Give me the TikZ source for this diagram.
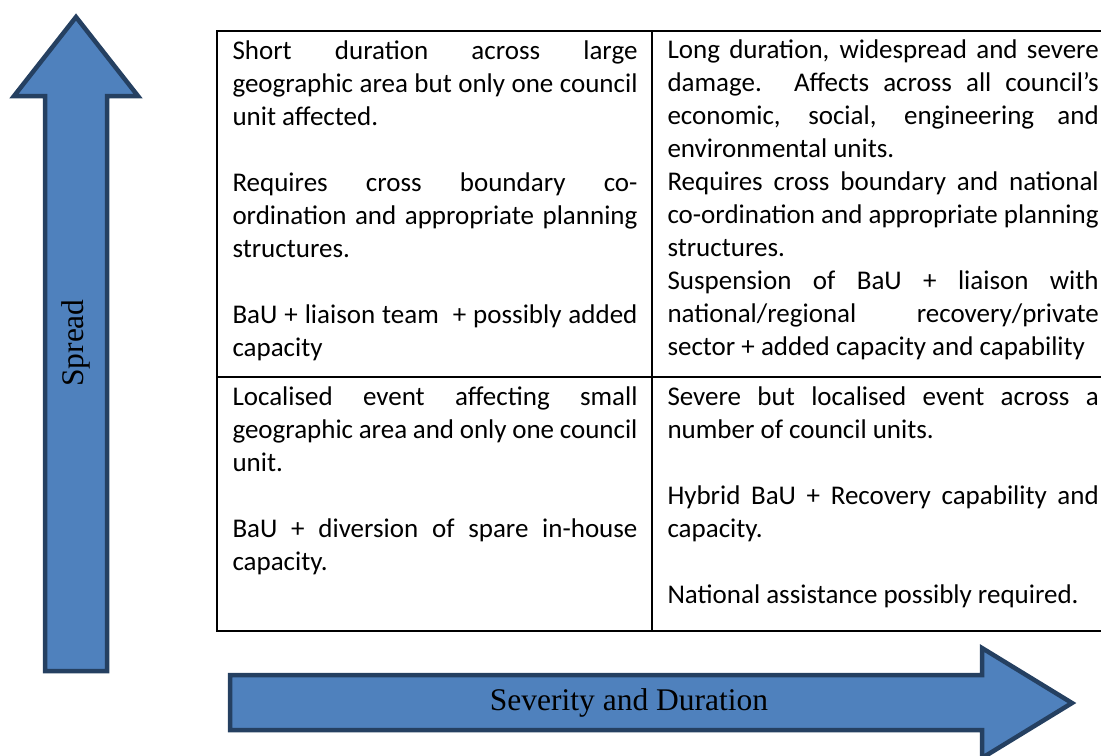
\documentclass[tikz,border=0pt]{standalone}
\usepackage{fontspec}
\setmainfont{Carlito}
\newfontfamily\tnr{Liberation Serif}
\definecolor{arrowfill}{RGB}{79,129,189}
\definecolor{arrowline}{RGB}{37,64,97}
\newcommand\natsp{\spaceskip=0pt\relax\xspaceskip=0pt\relax}
\newcommand\jla[1]{\makebox[162pt][s]{\natsp #1}\\}
\newcommand\jlb[1]{\makebox[172.5pt][s]{\natsp #1}\\}
\newcommand\pl[1]{\mbox{\natsp #1}\\}
\newcommand\cellfont{\fontsize{10.8pt}{13.2pt}\selectfont}
\tikzset{
  cellA/.style={anchor=base west, inner sep=0pt, text width=162pt, font=\cellfont},
  cellB/.style={anchor=base west, inner sep=0pt, text width=172.5pt, font=\cellfont},
  bigarrow/.style={fill=arrowfill, draw=arrowline, line width=1.8pt, line join=miter},
  grid/.style={draw=black, line width=1.1pt},
  axislabel/.style={inner sep=0pt, font=\tnr\fontsize{12.6pt}{14pt}\selectfont}
}
\begin{document}
\begin{tikzpicture}[x=0.4pt,y=-0.4pt]
\path[use as bounding box, clip] (0,0) rectangle (1101,755);
% table
\draw[grid] (217,31) rectangle (1110,631);
\draw[grid] (652,31) -- (652,631);
\draw[grid] (217,377) -- (1110,377);
% vertical arrow
\draw[bigarrow] (45,671) -- (45,96) -- (14,96) -- (76,17) -- (138,96) -- (107,96) -- (107,671) -- cycle;
\node[axislabel, rotate=90] (spread) at (76,343) {Spread};
% horizontal arrow
\draw[bigarrow] (230,675) -- (982,675) -- (982,648) -- (1072,703) -- (982,758) -- (982,730) -- (230,730) -- cycle;
\node[axislabel] (sev) at (629,703) {Severity and Duration};
% cells
\node[cellA] (tl) at (232,59) {%
\jla{Short duration across large}
\jla{geographic area but only one council}
\pl{unit affected.}
\pl{}
\jla{Requires cross boundary co-}
\jla{ordination and appropriate planning}
\pl{structures.}
\pl{}
\jla{BaU + liaison team\ \ + possibly added}
\mbox{capacity}};
\node[cellB] (tr) at (667,58) {%
\jlb{Long duration, widespread and severe}
\jlb{damage. Affects across all council’s}
\jlb{economic, social, engineering and}
\pl{environmental units.}
\jlb{Requires cross boundary and national}
\jlb{co-ordination and appropriate planning}
\pl{structures.}
\jlb{Suspension of BaU + liaison with}
\jlb{national/regional recovery/private}
\mbox{\natsp sector + added capacity and capability}};
\node[cellA] (bl) at (232,405) {%
\jla{Localised event affecting small}
\jla{geographic area and only one council}
\pl{unit.}
\pl{}
\jla{BaU + diversion of spare in-house}
\mbox{capacity.}};
\node[cellB] (br) at (667,405) {%
\jlb{Severe but localised event across a}
\pl{number of council units.}
\pl{}
\jlb{Hybrid BaU + Recovery capability and}
\pl{capacity.}
\pl{}
\mbox{\natsp National assistance possibly required.}};
\end{tikzpicture}
\end{document}
